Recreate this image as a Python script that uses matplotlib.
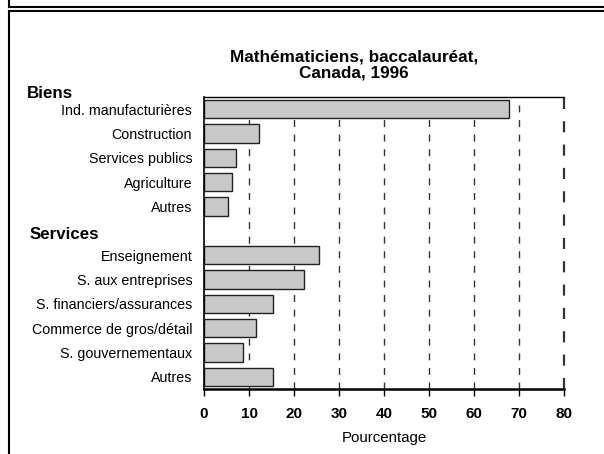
import numpy as np
import matplotlib
matplotlib.use("Agg")
import matplotlib.pyplot as plt
from matplotlib.lines import Line2D

plt.rcParams['font.family'] = ['Liberation Sans', 'DejaVu Sans']

title = "Mathématiciens, baccalauréat,\nCanada, 1996"
biens_labels = ["Ind. manufacturières", "Construction", "Services publics", "Agriculture", "Autres"]
biens_values = [67.7, 12.2, 7.2, 6.3, 5.4]
services_labels = ["Enseignement", "S. aux entreprises", "S. financiers/assurances",
                   "Commerce de gros/détail", "S. gouvernementaux", "Autres"]
services_values = [25.6, 22.3, 15.4, 11.5, 8.7, 15.4]
x_ticks = [0, 10, 20, 30, 40, 50, 60, 70, 80]

fig = plt.figure(figsize=(6.04, 4.54), dpi=100)

# frame lines around the figure
fig.add_artist(Line2D([9/604, 9/604], [1, 1-7/454], transform=fig.transFigure, color='black', lw=1.5))
fig.add_artist(Line2D([9/604, 1], [1-7/454, 1-7/454], transform=fig.transFigure, color='black', lw=1.5))
fig.add_artist(Line2D([9/604, 1], [1-11/454, 1-11/454], transform=fig.transFigure, color='black', lw=1.5))
fig.add_artist(Line2D([9/604, 9/604], [1-11/454, 0], transform=fig.transFigure, color='black', lw=1.5))

ax = fig.add_axes([204/604, 1-389/454, 360/604, 292/454])

ypos_b = np.arange(len(biens_values))
ypos_s = np.arange(len(services_values)) + len(biens_values) + 1
ypos = np.concatenate([ypos_b, ypos_s])
values = biens_values + services_values
labels = biens_labels + services_labels

for x in x_ticks[1:]:
    ax.axvline(x, color='#333333', lw=1.0 if x < 80 else 1.6, linestyle=(0, (5, 5.5)),
               zorder=1, clip_on=False)

ax.barh(ypos, values, height=0.76, color='#c8c8c8', edgecolor='#222222', linewidth=1.0, zorder=2)

ax.set_xlim(0, 80)
ax.set_ylim(len(ypos) + 0.5, -0.5)
ax.set_yticks(ypos)
ax.set_yticklabels(labels, fontsize=10.3)
ax.tick_params(axis='y', length=0, pad=8.5)
ax.set_xticks(x_ticks)
ax.set_xticklabels([str(t) for t in x_ticks], fontsize=11, fontweight='bold')
ax.tick_params(axis='x', length=5, width=1, direction='out', pad=8)
ax.set_xlabel("Pourcentage", fontsize=10.8, labelpad=7)

ax.spines['left'].set_linewidth(1.2)
ax.spines['bottom'].set_linewidth(1.8)
ax.spines['top'].set_linewidth(1.0)
ax.spines['right'].set_visible(False)

ax.text(-177/4.5, -0.65, "Biens", fontsize=12.2, fontweight='bold', va='center', ha='left')
ax.text(-174/4.5, 5.15, "Services", fontsize=12.2, fontweight='bold', va='center', ha='left')

fig.text(354/604, 1-65/454, title, fontsize=12.3, fontweight='bold', ha='center', va='center', linespacing=1.0)

fig.savefig("out.png", dpi=100)
